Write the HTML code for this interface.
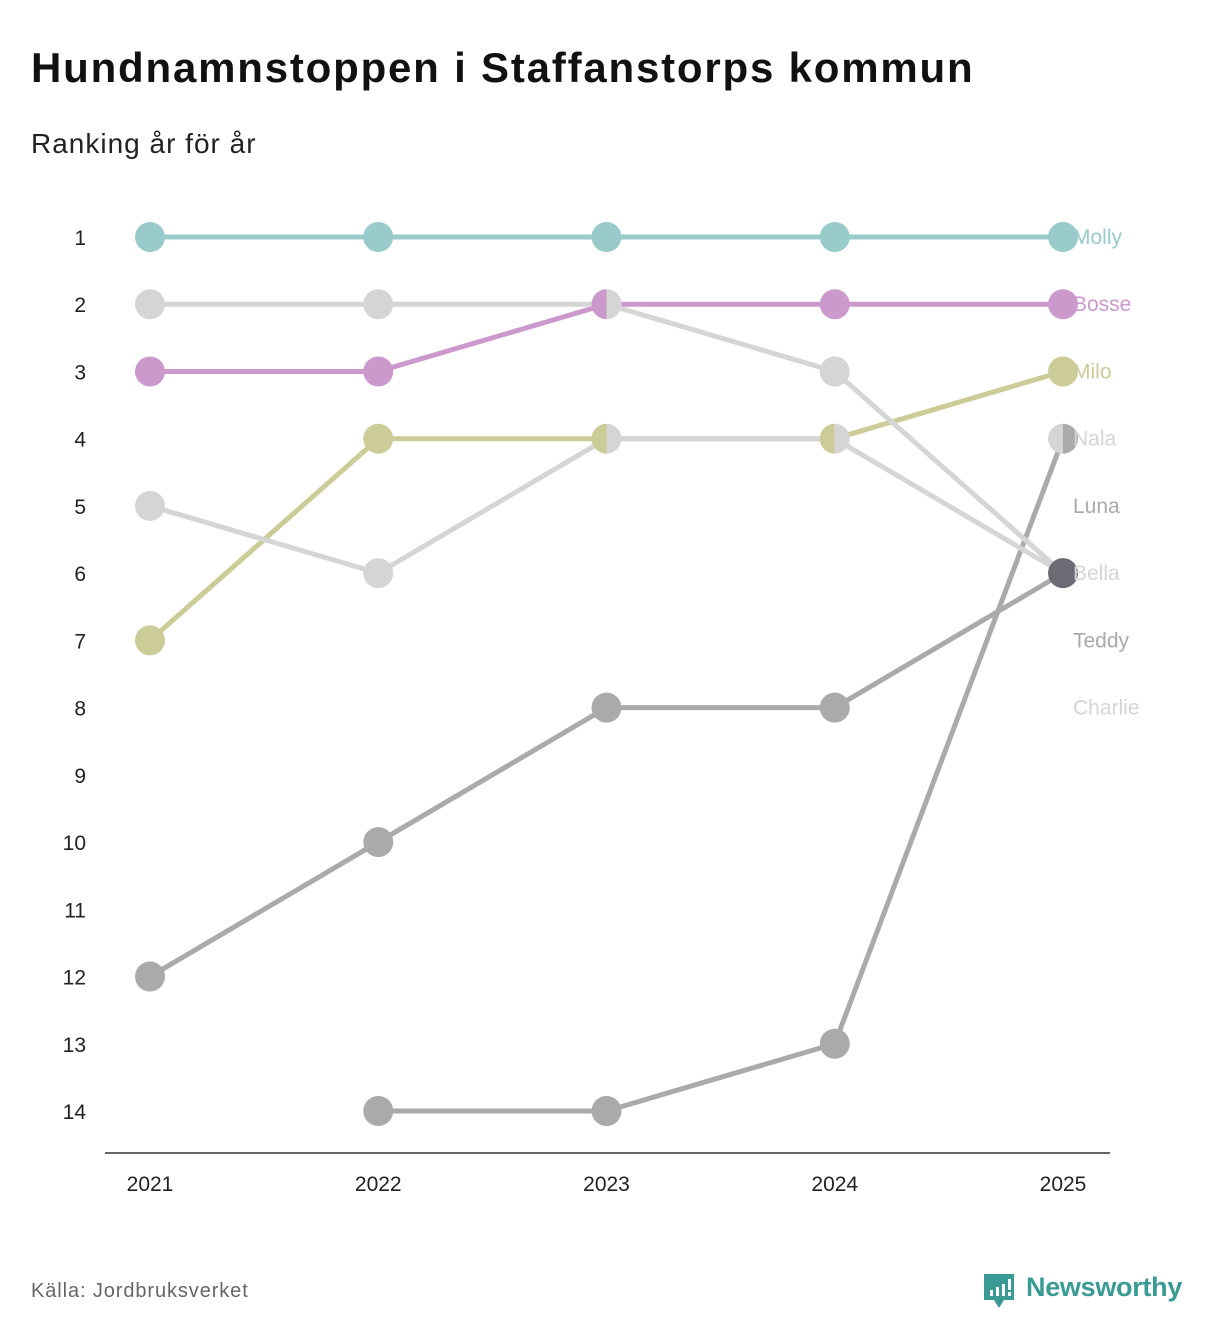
<!DOCTYPE html>
<html><head><meta charset="utf-8"><style>
body{margin:0;background:#fff;width:1212px;height:1340px;overflow:hidden;font-family:"Liberation Sans",sans-serif;}
</style></head><body>
<svg width="1212" height="1340" style="position:absolute;left:0;top:0">
<text x="31" y="82" font-size="42" font-weight="bold" fill="#111" letter-spacing="1.8">Hundnamnstoppen i Staffanstorps kommun</text>
<text x="31" y="153" font-size="28" fill="#222" letter-spacing="1">Ranking år för år</text>
<line x1="105" y1="1153" x2="1110" y2="1153" stroke="#333" stroke-width="1.5"/>
<g id="plot"></g>
<text x="31" y="1297" font-size="20" fill="#666" letter-spacing="0.9">Källa: Jordbruksverket</text>
<g>
<path d="M984 1274 h30 v26 h-10 l-5 8 l-5 -8 h-10 z" fill="#3a9a94"/>
<rect x="990" y="1290" width="3" height="6" fill="#fff"/><rect x="996" y="1287" width="3" height="9" fill="#fff"/><rect x="1002" y="1284" width="3" height="12" fill="#fff"/><rect x="1008" y="1279" width="3" height="11" fill="#fff"/><rect x="1008" y="1292" width="3" height="4" fill="#fff"/>
<text x="1026" y="1296" font-size="27" font-weight="bold" fill="#3a9a94" letter-spacing="-0.3">Newsworthy</text>
</g>
</svg>
<script>
const years=[2021,2022,2023,2024,2025];
const names=["Molly","Bosse","Milo","Nala","Luna","Bella","Teddy","Charlie"];
const colors=["#98cbca","#cc99cc","#cccc99","#d5d5d5","#aaaaaa","#d5d5d5","#aaaaaa","#d5d5d5"];
const molly=[1,1,1,1,1];
const bosse=[3,3,2,2,2];
const milo=[7,4,4,4,3];
const nala=[null,null,null,null,4];
const luna=[null,14,14,13,4];
const bella=[2,2,2,3,6];
const teddy=[12,10,8,8,6];
const charlie=[5,6,4,4,6];
const series=[molly,bosse,milo,nala,luna,bella,teddy,charlie];
const rankTicks=[1,2,3,4,5,6,7,8,9,10,11,12,13,14];
const NS="http://www.w3.org/2000/svg";
const g=document.getElementById('plot');
const xs=i=>150+i*(1063-150)/(years.length-1);
const ys=r=>237+(r-1)*(1111-237)/13;
function mk(t,a){const e=document.createElementNS(NS,t);for(const k in a)e.setAttribute(k,a[k]);g.appendChild(e);return e;}
rankTicks.forEach(r=>{const t=mk('text',{x:86,y:ys(r)+8,'text-anchor':'end','font-size':21,fill:'#222'});t.textContent=r;

});
years.forEach((y,i)=>{const t=mk('text',{x:xs(i),y:1191,'text-anchor':'middle','font-size':21,fill:'#222'});t.textContent=y;

});
series.forEach((s,k)=>{for(let i=0;i<s.length-1;i++){if(s[i]==null||s[i+1]==null)continue;
const l=mk('line',{x1:xs(i),y1:ys(s[i]),x2:xs(i+1),y2:ys(s[i+1]),stroke:colors[k],'stroke-width':5});

}});
const R=15;
years.forEach((y,i)=>{const groups={};series.forEach((s,k)=>{if(s[i]!=null)(groups[s[i]]=groups[s[i]]||[]).push(k);});
for(const r in groups){const ks=groups[r];const cx=xs(i),cy=ys(+r);
if(ks.length==1){const c=mk('circle',{cx,cy,r:R,fill:colors[ks[0]]});

}
else if(ks.length==2){const a=mk('path',{d:`M${cx} ${cy-R} A${R} ${R} 0 0 0 ${cx} ${cy+R} Z`,fill:colors[ks[0]]});


const b=mk('path',{d:`M${cx} ${cy-R} A${R} ${R} 0 0 1 ${cx} ${cy+R} Z`,fill:colors[ks[1]]});

}
else{const c=mk('circle',{cx,cy,r:R,fill:'#6b6b73'});

}}});
names.forEach((n,k)=>{const t=mk('text',{x:1073,y:ys(k+1)+7,'font-size':21,fill:colors[k]});t.textContent=n;

});
</script>
</body></html>
